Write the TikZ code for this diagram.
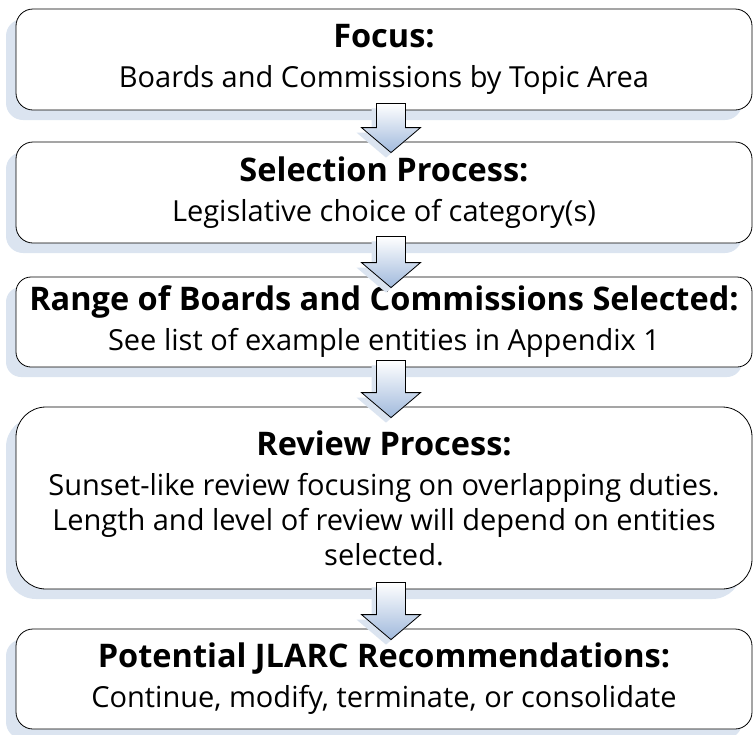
\documentclass[tikz,border=0pt]{standalone}
\usepackage{fontspec}
\setmainfont{Open Sans}
\usetikzlibrary{shadows,calc}
\definecolor{shadowblue}{RGB}{219,228,240}
\definecolor{arrowblue}{RGB}{160,185,220}
\newcommand{\stagetitle}[1]{{\fontsize{32.5}{36}\selectfont\bfseries #1}\\[5pt]}
\newcommand{\flowarrow}[2]{%
  \path[arrowbody] let \p1=(#1.south), \p2=(#2.north) in
    (\x1-7.5pt,\y1+7pt) -- (\x1+21.5pt,\y1+7pt) -- (\x1+21.5pt,\y2+14pt)
    -- (\x1+36.5pt,\y2+14pt) -- (\x1+7pt,\y2-11pt) -- (\x1-22.5pt,\y2+14pt)
    -- (\x1-7.5pt,\y2+14pt) -- cycle;}
\begin{document}
\begin{tikzpicture}
  [x=1pt,y=-1pt,
   every node/.style={font=\fontsize{29}{35}\selectfont},
   stage/.style={draw,thick,fill=white,align=center,minimum width=736pt,inner xsep=1pt,
     drop shadow={shadow xshift=-10pt,shadow yshift=-10pt,fill=shadowblue,opacity=1}},
   arrowbody/.style={draw,thick,top color=white,bottom color=arrowblue,
     drop shadow={shadow xshift=-5pt,shadow yshift=-5pt,fill=shadowblue,opacity=1}}]
  \useasboundingbox (0,0) rectangle (754,734);
  \node[stage,minimum height=101pt,rounded corners=17pt] (focus) at (384,59.5)
    {\stagetitle{Focus:} Boards and Commissions by Topic Area};
  \node[stage,minimum height=101pt,rounded corners=17pt] (select) at (384,192.5)
    {\stagetitle{Selection Process:} Legislative choice of category(s)};
  \node[stage,minimum height=90pt,rounded corners=15pt] (range) at (384,322)
    {\stagetitle{Range of Boards and Commissions Selected:} See list of example entities in Appendix 1};
  \node[stage,minimum height=182pt,rounded corners=30pt] (review) at (384,498)
    {\stagetitle{Review Process:} Sunset-like review focusing on overlapping duties.\\
     Length and level of review will depend on entities\\ selected.};
  \node[stage,minimum height=100pt,rounded corners=17pt] (recommend) at (384,679)
    {\stagetitle{Potential JLARC Recommendations:} Continue, modify, terminate, or consolidate};
  % block arrows between the stages
  \flowarrow{focus}{select}
  \flowarrow{select}{range}
  \flowarrow{range}{review}
  \flowarrow{review}{recommend}
\end{tikzpicture}
\end{document}
